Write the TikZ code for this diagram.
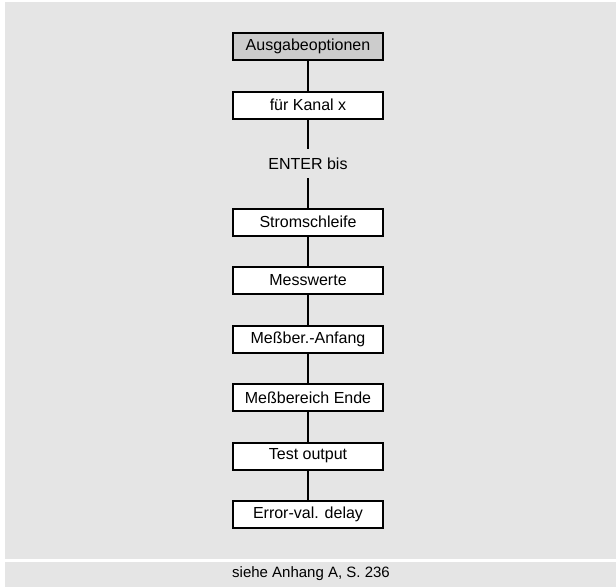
\documentclass[tikz,border=0pt]{standalone}
\usepackage{fontspec}
\setmainfont{Liberation Sans}
\usetikzlibrary{positioning}

\begin{document}
\begin{tikzpicture}[
    x=1pt, y=-1pt,
    line width=2pt,
    font=\fontsize{16}{19}\selectfont,
    optbox/.style={draw, rectangle, fill=white, minimum width=150pt, minimum height=27pt, inner sep=0pt},
    headbox/.style={optbox, fill=headgray},
    hint/.style={rectangle, minimum width=150pt, minimum height=27pt, inner sep=0pt},
    node distance=29.5pt
]
\definecolor{panelgray}{HTML}{E5E5E5}
\definecolor{headgray}{HTML}{CCCCCC}

% frame
\useasboundingbox (0,0) rectangle (616,587);
\fill[panelgray] (5,2) rectangle (616,559);
\fill[panelgray] (5,562) rectangle (616,587);

% menu chain
\node[headbox] (ausgabe) at (308,46.5) {Ausgabeoptionen};
\node[optbox, below=of ausgabe] (kanal) {für Kanal x};
\node[hint, below=of kanal] (enter) {ENTER bis};
\node[optbox, below=of enter] (strom) {Stromschleife};
\node[optbox, below=of strom] (mess) {Messwerte};
\node[optbox, below=of mess] (anfang) {Meßber.-Anfang};
\node[optbox, below=of anfang] (ende) {Meßbereich Ende};
\node[optbox, below=of ende] (test) {Test output};
\node[optbox, below=of test] (delay) {Error-val. delay};

\draw (ausgabe) -- (kanal);
\draw (kanal) -- (enter);
\draw (enter) -- (strom);
\draw (strom) -- (mess);
\draw (mess) -- (anfang);
\draw (anfang) -- (ende);
\draw (ende) -- (test);
\draw (test) -- (delay);

% footer
\node[font=\fontsize{15}{18}\selectfont] (anhang) at (311,574) {siehe Anhang A, S. 236};

\end{tikzpicture}
\end{document}
